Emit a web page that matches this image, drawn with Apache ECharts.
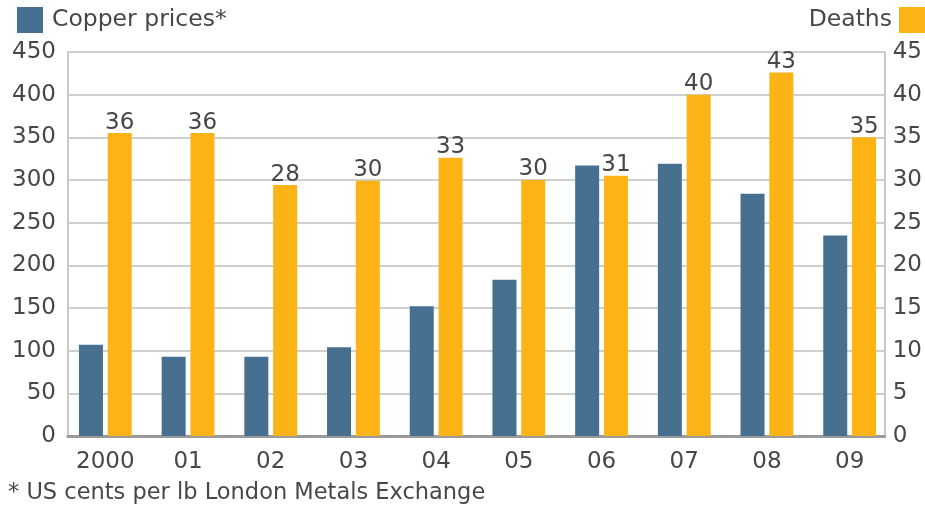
<!DOCTYPE html>
<html><head><meta charset="utf-8">
<script src="https://cdn.jsdelivr.net/npm/echarts@6/dist/echarts.min.js"></script>
<style>html,body{margin:0;padding:0;background:#fff}#c{width:925px;height:506px}</style>
</head><body><div id="c"></div>
<script>
const categories = ['2000','01','02','03','04','05','06','07','08','09'];
const copperPrices = [107, 93, 93, 104, 152, 183, 317, 319, 284, 235];
const deathsHeights = [35.5, 35.5, 29.4, 29.9, 32.6, 30.0, 30.5, 40.0, 42.6, 35.0];
const deathsLabels = ['36', '36', '28', '30', '33', '30', '31', '40', '43', '35'];
const leftTicks = [0, 450, 50];
const rightTicks = [0, 45, 5];
const footnote = '* US cents per lb London Metals Exchange';

const FONT = 'Verdana, "DejaVu Sans", sans-serif';
const TXT = '#474747';
const FS = 23;
const chart = echarts.init(document.getElementById('c'), null, {renderer:'canvas'});
chart.setOption({
  animation: false,
  backgroundColor: '#fff',
  textStyle: {fontFamily: FONT},
  grid: [
    {left: 68, right: 40, top: 52, bottom: 70},
    {left: 64, right: 34, top: 52, bottom: 70}
  ],
  legend: [
    {left: 17, top: 7, padding: 0, itemWidth: 26, itemHeight: 26, itemGap: 8, icon: 'rect',
     data: ['Copper prices*'], textStyle: {fontSize: 23.5, color: TXT, fontFamily: FONT, padding:[0,0,0,4]}},
    {right: 0, top: 7, padding: 0, itemWidth: 26, itemHeight: 26, icon: 'rect', align: 'right',
     data: ['Deaths'], textStyle: {fontSize: 23.5, color: TXT, fontFamily: FONT, padding:[0,2,0,0]}}
  ],
  xAxis: [
    {type: 'category', data: categories, gridIndex: 0,
     axisTick: {show: false},
     axisLine: {lineStyle: {color: '#9a9a9a', width: 3}},
     axisLabel: {show: false}},
    {type: 'category', data: categories, gridIndex: 1,
     axisTick: {show: false},
     axisLine: {show: false},
     axisLabel: {fontSize: FS, color: TXT, margin: 15, fontFamily: FONT}}
  ],
  yAxis: [
    {type: 'value', gridIndex: 0, min: leftTicks[0], max: leftTicks[1], interval: leftTicks[2],
     axisLine: {show: true, lineStyle: {color: '#c8c8c8', width: 2}},
     axisTick: {show: false},
     splitLine: {lineStyle: {color: '#cfcfcf', width: 2}},
     axisLabel: {fontSize: FS, color: TXT, margin: 12, fontFamily: FONT}},
    {type: 'value', gridIndex: 0, position: 'right', min: rightTicks[0], max: rightTicks[1], interval: rightTicks[2],
     axisLine: {show: true, lineStyle: {color: '#c8c8c8', width: 2}},
     axisTick: {show: false},
     splitLine: {show: false},
     axisLabel: {fontSize: FS, color: TXT, margin: 8, fontFamily: FONT}},
    {type: 'value', gridIndex: 1, min: leftTicks[0], max: leftTicks[1], show: false, splitLine: {show: false}},
    {type: 'value', gridIndex: 1, position: 'right', min: rightTicks[0], max: rightTicks[1], show: false, splitLine: {show: false}}
  ],
  series: [
    {name: 'Copper prices*', type: 'bar', data: copperPrices, xAxisIndex: 1, yAxisIndex: 2,
     barWidth: 24, barGap: '20%',
     itemStyle: {color: '#476f8f'}},
    {name: 'Deaths', type: 'bar', data: deathsHeights, xAxisIndex: 1, yAxisIndex: 3,
     barWidth: 24,
     itemStyle: {color: '#fcb316'},
     label: {show: true, position: 'top', distance: -1, fontSize: FS, color: TXT, fontFamily: FONT,
       formatter: p => deathsLabels[p.dataIndex]}}
  ],
  graphic: [
    {type: 'text', left: 8, top: 482,
     style: {text: footnote, fontSize: 22.5, fill: TXT, fontFamily: FONT}}
  ]
});
</script></body></html>
